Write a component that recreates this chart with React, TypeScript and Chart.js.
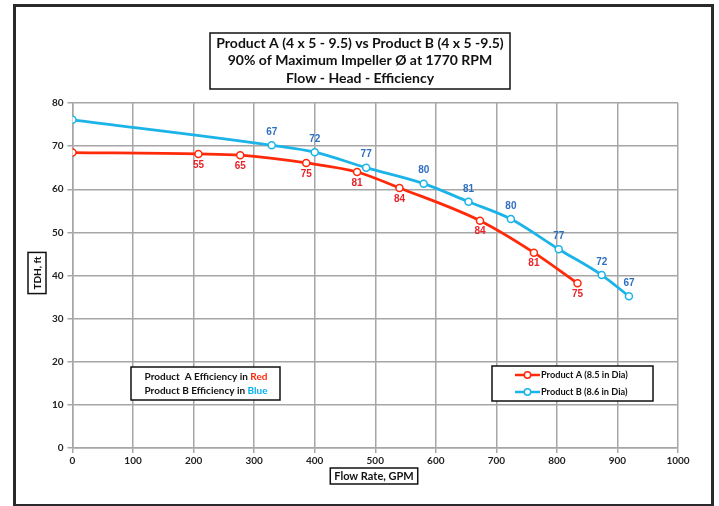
import React, { useEffect, useRef } from "react";
import { Chart, registerables } from "chart.js";

Chart.register(...registerables);

// ---- Data ----
const productAFlow = [0, 208, 277, 386, 470, 540, 673, 762, 834];
const productAHead = [68.5, 68.2, 67.9, 66.1, 64.0, 60.3, 52.7, 45.3, 38.2];
const productAEff: (number | null)[] = [null, 55, 65, 75, 81, 84, 84, 81, 75];

const productBFlow = [0, 329, 400, 485, 580, 654, 724, 803, 874, 919];
const productBHead = [76.1, 70.2, 68.6, 65.0, 61.3, 57.1, 53.1, 46.1, 40.1, 35.2];
const productBEff: (number | null)[] = [null, 67, 72, 77, 80, 81, 80, 77, 72, 67];

const seriesNames = ["Product A (8.5 in Dia)", "Product B (8.6 in Dia)"];
const titleLines = [
  "Product A (4 x 5 - 9.5) vs Product B (4 x 5 -9.5)",
  "90% of Maximum Impeller Ø at 1770 RPM",
  "Flow - Head - Efficiency",
];
const xAxisTitle = "Flow Rate, GPM";
const yAxisTitle = "TDH, ft";
const noteLines = [
  ["Product  A Efficiency in ", "Red"],
  ["Product B Efficiency in ", "Blue"],
];

const RED = "#ff2a0a";
const RED_LABEL = "#e8232a";
const BLUE = "#1cb4e8";
const BLUE_LABEL = "#2f6fc0";
const NOTE_BLUE = "#00b0f0";
const FONT = "Lato, 'Liberation Sans', sans-serif";
const LABEL_FONT = "'Liberation Sans Narrow', 'Liberation Sans', sans-serif";

const decorPlugin = {
  id: "decor",
  afterDatasetsDraw(chart: any) {
    const ctx = chart.ctx as CanvasRenderingContext2D;
    ctx.save();
    ctx.font = `bold 10px ${LABEL_FONT}`;
    ctx.textAlign = "center";
    ctx.textBaseline = "middle";
    const effs = [productAEff, productBEff];
    const colors = [RED_LABEL, BLUE_LABEL];
    const offs = [11, -13];
    for (let d = 0; d < 2; d++) {
      const meta = chart.getDatasetMeta(d);
      meta.data.forEach((pt: any, i: number) => {
        const v = effs[d][i];
        if (v == null) return;
        ctx.fillStyle = colors[d];
        ctx.fillText(String(v), pt.x, pt.y + offs[d]);
      });
    }
    ctx.restore();
  },
  afterDraw(chart: any) {
    const ctx = chart.ctx as CanvasRenderingContext2D;
    ctx.save();
    // outer frame
    ctx.strokeStyle = "#2a2a2a";
    ctx.lineWidth = 3;
    ctx.strokeRect(14.5, 5.5, 698, 500);

    // title box
    ctx.fillStyle = "#fff";
    ctx.fillRect(210, 33, 300, 56);
    ctx.strokeStyle = "#111";
    ctx.lineWidth = 1.5;
    ctx.strokeRect(210, 33, 300, 56);
    ctx.fillStyle = "#111";
    ctx.font = `bold 14px ${FONT}`;
    ctx.textAlign = "center";
    ctx.textBaseline = "middle";
    titleLines.forEach((t, i) => ctx.fillText(t, 360, 43 + i * 17.5));

    // y axis title
    ctx.save();
    ctx.translate(37, 273);
    ctx.rotate(-Math.PI / 2);
    ctx.font = `bold 10px ${FONT}`;
    const yw = ctx.measureText(yAxisTitle).width + 8;
    ctx.fillStyle = "#fff";
    ctx.fillRect(-yw / 2, -9, yw, 18);
    ctx.strokeRect(-yw / 2, -9, yw, 18);
    ctx.fillStyle = "#111";
    ctx.fillText(yAxisTitle, 0, 0.5);
    ctx.restore();

    // x axis title
    ctx.font = `bold 11px ${FONT}`;
    const xw = ctx.measureText(xAxisTitle).width + 8;
    ctx.fillStyle = "#fff";
    ctx.fillRect(374 - xw / 2, 468, xw, 16);
    ctx.strokeRect(374 - xw / 2, 468, xw, 16);
    ctx.fillStyle = "#111";
    ctx.fillText(xAxisTitle, 374, 476.5);

    // note box
    ctx.fillStyle = "#fff";
    ctx.fillRect(131, 367, 149, 33);
    ctx.strokeStyle = "#111";
    ctx.strokeRect(131, 367, 149, 33);
    ctx.font = `bold 10px ${FONT}`;
    ctx.textAlign = "left";
    const noteColors = [RED, NOTE_BLUE];
    noteLines.forEach((ln, i) => {
      const w1 = ctx.measureText(ln[0]).width;
      const w2 = ctx.measureText(ln[1]).width;
      const x0 = 206 - (w1 + w2) / 2;
      const y = 376.5 + i * 14;
      ctx.fillStyle = "#111";
      ctx.fillText(ln[0], x0, y);
      ctx.fillStyle = noteColors[i];
      ctx.fillText(ln[1], x0 + w1, y);
    });

    // legend box
    ctx.fillStyle = "#fff";
    ctx.fillRect(492, 366, 161, 35);
    ctx.strokeStyle = "#111";
    ctx.strokeRect(492, 366, 161, 35);
    const legColors = [RED, BLUE];
    ctx.font = `bold 9.2px ${FONT}`;
    seriesNames.forEach((name, i) => {
      const y = 375 + i * 17;
      ctx.strokeStyle = legColors[i];
      ctx.lineWidth = 2.5;
      ctx.beginPath();
      ctx.moveTo(515, y);
      ctx.lineTo(540, y);
      ctx.stroke();
      ctx.fillStyle = "#fff";
      ctx.lineWidth = 1.5;
      ctx.beginPath();
      ctx.arc(527.5, y, 3.2, 0, Math.PI * 2);
      ctx.fill();
      ctx.stroke();
      ctx.fillStyle = "#111";
      ctx.textAlign = "left";
      ctx.fillText(name, 541, y + 0.5);
    });
    ctx.restore();
  },
};

export default function App() {
  const ref = useRef<HTMLCanvasElement | null>(null);
  useEffect(() => {
    if (!ref.current) return;
    const chart = new Chart(ref.current, {
      type: "line",
      data: {
        datasets: [
          {
            label: seriesNames[0],
            data: productAFlow.map((x, i) => ({ x, y: productAHead[i] })),
            borderColor: RED,
            backgroundColor: "#fff",
            borderWidth: 2.8,
            pointRadius: 3.5,
            pointBorderWidth: 1.5,
            pointBackgroundColor: "#fff",
            pointBorderColor: RED,
            cubicInterpolationMode: "monotone",
          },
          {
            label: seriesNames[1],
            data: productBFlow.map((x, i) => ({ x, y: productBHead[i] })),
            borderColor: BLUE,
            backgroundColor: "#fff",
            borderWidth: 2.8,
            pointRadius: 3.5,
            pointBorderWidth: 1.5,
            pointBackgroundColor: "#fff",
            pointBorderColor: BLUE,
            cubicInterpolationMode: "monotone",
          },
        ],
      },
      options: {
        responsive: false,
        animation: false,
        devicePixelRatio: 1,
        layout: { padding: { left: 0, right: 41, top: 103, bottom: 38 } },
        plugins: {
          legend: { display: false },
          title: { display: false },
          tooltip: { enabled: false },
        },
        scales: {
          x: {
            type: "linear",
            min: 0,
            max: 1000,
            afterFit: (s: any) => {
              s.height = 20;
            },
            ticks: {
              stepSize: 100,
              color: "#222",
              padding: 2,
              maxRotation: 0,
              callback: (v: any) => String(v),
              font: { family: FONT, weight: "bold", size: 10 },
            },
            grid: { color: "#a6a6a6", lineWidth: 1.5, tickLength: 5 },
            border: { color: "#a6a6a6", width: 1.5 },
          },
          y: {
            min: 0,
            max: 80,
            afterFit: (s: any) => {
              s.width = 72.5;
            },
            ticks: {
              stepSize: 10,
              color: "#222",
              padding: 4,
              callback: (v: any) => String(v),
              font: { family: FONT, weight: "bold", size: 10 },
            },
            grid: { color: "#a6a6a6", lineWidth: 1.5, tickLength: 5 },
            border: { color: "#a6a6a6", width: 1.5 },
          },
        },
      },
      plugins: [decorPlugin],
    } as any);
    return () => chart.destroy();
  }, []);
  return (
    <div style={{ position: "fixed", left: 0, top: 0, width: 719, height: 506, background: "#fff" }}>
      <canvas ref={ref} width={719} height={506} />
    </div>
  );
}
